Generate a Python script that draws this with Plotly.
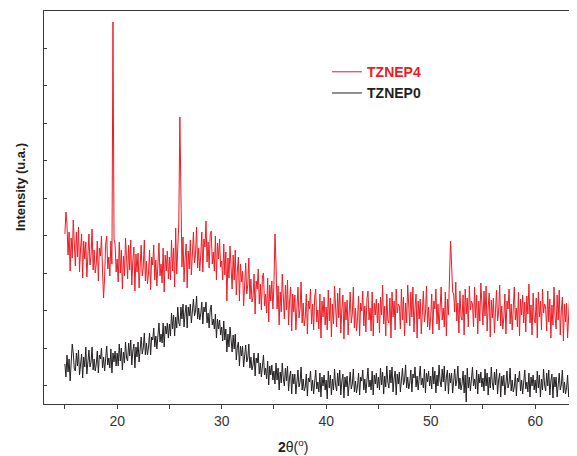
"""XRD patterns of TZNEP0 and TZNEP4 (intensity in arbitrary units)."""

import numpy as np
import plotly.graph_objects as go

# 2-theta sampling grid: 15.0 to 64.0 deg, 0.1 deg step
TWO_THETA_START = 15.0
TWO_THETA_STEP = 0.1

# TZNEP4 intensity, one row per degree (15.0-15.9, 16.0-16.9, ...)
tznep4 = [
    170, 192, 180, 149, 172, 133, 166, 146, 184, 154,
    138, 172, 147, 177, 132, 156, 170, 126, 163, 145,
    162, 127, 157, 170, 139, 148, 175, 134, 154, 131,
    140, 163, 123, 156, 148, 168, 133, 106, 127, 160,
    168, 135, 147, 128, 163, 140, 382, 165, 160, 132,
    145, 122, 162, 131, 154, 115, 148, 128, 166, 136,
    125, 159, 134, 164, 119, 143, 157, 113, 150, 132,
    151, 116, 146, 159, 128, 137, 164, 123, 143, 120,
    131, 154, 114, 147, 139, 159, 124, 144, 118, 151,
    161, 128, 140, 121, 156, 112, 149, 133, 153, 125,
    147, 124, 164, 133, 156, 117, 176, 130, 168, 182,
    287, 170, 137, 167, 122, 146, 160, 116, 153, 135,
    164, 129, 159, 172, 141, 150, 177, 136, 156, 133,
    149, 172, 132, 165, 157, 183, 142, 162, 136, 169,
    173, 140, 152, 133, 168, 124, 161, 145, 165, 137,
    143, 124, 160, 129, 152, 103, 146, 126, 158, 132,
    115, 149, 124, 154, 109, 133, 147, 103, 140, 122,
    133, 98, 128, 141, 110, 119, 146, 105, 125, 102,
    107, 130, 90, 123, 115, 135, 100, 120, 94, 127,
    131, 98, 110, 91, 126, 82, 119, 103, 123, 95,
    118, 170, 140, 95, 118, 79, 112, 92, 130, 100,
    85, 119, 94, 124, 79, 103, 117, 73, 110, 92,
    109, 74, 104, 117, 86, 95, 122, 81, 101, 78,
    87, 110, 70, 103, 95, 115, 80, 100, 74, 107,
    115, 82, 94, 75, 110, 66, 103, 87, 107, 79,
    97, 74, 114, 83, 106, 67, 100, 80, 118, 88,
    77, 111, 86, 116, 71, 95, 109, 65, 102, 84,
    104, 69, 99, 112, 81, 90, 117, 76, 96, 73,
    85, 108, 68, 101, 93, 113, 78, 98, 72, 105,
    113, 84, 96, 73, 112, 68, 101, 89, 105, 81,
    101, 71, 107, 89, 119, 80, 98, 68, 110, 84,
    81, 106, 66, 112, 87, 103, 74, 115, 91, 100,
    98, 75, 115, 84, 107, 68, 101, 81, 119, 89,
    78, 112, 87, 117, 72, 96, 110, 66, 103, 85,
    105, 70, 100, 113, 82, 91, 118, 77, 97, 74,
    87, 110, 70, 103, 95, 115, 80, 100, 74, 107,
    117, 84, 96, 77, 112, 68, 105, 89, 125, 163,
    140, 112, 110, 92, 122, 83, 101, 71, 113, 87,
    84, 109, 69, 115, 90, 106, 77, 118, 94, 103,
    100, 77, 117, 86, 109, 70, 103, 83, 121, 91,
    79, 113, 88, 118, 73, 97, 111, 67, 104, 86,
    106, 71, 101, 114, 83, 92, 119, 78, 98, 75,
    87, 110, 70, 103, 95, 115, 80, 100, 74, 107,
    117, 84, 96, 77, 112, 68, 105, 89, 109, 81,
    102, 72, 108, 90, 120, 81, 99, 69, 111, 85,
    81, 106, 66, 112, 87, 103, 74, 115, 91, 100,
    96, 73, 113, 82, 105, 66, 99, 79, 117, 87,
    75, 109, 84, 114, 69, 93, 107, 63, 100, 82,
    101, 66, 96, 109, 78, 87, 114, 73, 93, 70,
    86,
]

# TZNEP0 intensity, same grid
tznep0 = [
    40, 27, 49, 32, 45, 23, 41, 60, 51, 35,
    33, 51, 38, 54, 29, 43, 50, 26, 47, 37,
    57, 30, 47, 54, 37, 42, 57, 34, 45, 33,
    40, 53, 31, 49, 45, 56, 36, 47, 33, 51,
    58, 39, 46, 36, 55, 31, 51, 42, 53, 38,
    51, 38, 60, 43, 56, 34, 52, 41, 62, 46,
    43, 61, 48, 64, 39, 53, 60, 36, 57, 47,
    62, 42, 60, 67, 50, 56, 71, 49, 61, 49,
    57, 71, 49, 67, 64, 76, 57, 68, 55, 73,
    81, 62, 70, 61, 81, 57, 78, 70, 81, 66,
    80, 68, 91, 75, 89, 68, 87, 76, 97, 81,
    78, 97, 85, 100, 77, 91, 99, 76, 97, 88,
    100, 81, 98, 105, 88, 93, 108, 85, 96, 84,
    90, 102, 80, 97, 92, 102, 81, 91, 76, 94,
    99, 79, 85, 75, 90, 66, 85, 75, 84, 69,
    77, 63, 83, 64, 75, 52, 70, 57, 77, 60,
    52, 69, 55, 70, 44, 57, 62, 38, 58, 48,
    58, 37, 53, 59, 42, 46, 60, 36, 47, 34,
    39, 51, 28, 46, 41, 51, 30, 41, 27, 44,
    49, 29, 36, 25, 43, 19, 38, 29, 39, 24,
    33, 20, 41, 24, 36, 14, 32, 21, 41, 25,
    18, 36, 23, 38, 13, 27, 33, 10, 30, 20,
    30, 10, 27, 34, 17, 22, 37, 14, 25, 13,
    17, 30, 8, 26, 22, 33, 13, 24, 10, 28,
    34, 15, 22, 12, 31, 7, 27, 18, 29, 14,
    24, 5, 33, 16, 29, 9, 25, 14, 35, 19,
    13, 31, 18, 34, 9, 23, 30, 6, 27, 17,
    28, 8, 25, 32, 15, 20, 35, 12, 23, 11,
    18, 31, 9, 27, 23, 34, 14, 25, 11, 29,
    36, 17, 24, 14, 33, 9, 29, 20, 31, 16,
    27, 14, 36, 19, 32, 10, 28, 17, 38, 22,
    16, 34, 21, 37, 12, 26, 33, 9, 30, 20,
    32, 12, 29, 36, 19, 24, 39, 16, 27, 15,
    21, 34, 12, 30, 26, 37, 17, 28, 14, 32,
    38, 19, 26, 16, 35, 11, 31, 22, 33, 18,
    28, 15, 37, 20, 33, 11, 29, 18, 39, 23,
    17, 35, 22, 38, 13, 27, 34, 10, 31, 21,
    31, 11, 28, 35, 18, 23, 38, 15, 26, 14,
    20, 33, 11, 29, 2, 36, 16, 27, 13, 31,
    37, 18, 25, 15, 34, 10, 30, 21, 32, 17,
    26, 13, 35, 18, 31, 9, 27, 16, 37, 21,
    14, 32, 19, 35, 10, 24, 31, 7, 28, 18,
    29, 9, 26, 33, 16, 21, 36, 13, 24, 12,
    17, 30, 8, 26, 22, 33, 13, 24, 10, 28,
    34, 15, 22, 12, 31, 7, 27, 18, 29, 14,
    24, 11, 33, 16, 29, 7, 25, 14, 35, 19,
    13, 31, 18, 34, 9, 23, 30, 6, 27, 17,
    27, 7, 24, 31, 14, 19, 34, 11, 22, 10,
    16, 29, 7, 25, 21, 32, 12, 23, 9, 27,
    20,
]

x_tick_vals = [15, 20, 25, 30, 35, 40, 45, 50, 55, 60]
x_tick_text = ["", "20", "", "30", "", "40", "", "50", "", "60"]

RED = "#ed1c24"
BLACK = "#231f20"
FONT = "Arial, Liberation Sans, sans-serif"


def grid(n: int) -> np.ndarray:
    return np.round(TWO_THETA_START + TWO_THETA_STEP * np.arange(n), 2)


fig = go.Figure()
fig.add_trace(go.Scatter(
    x=grid(len(tznep4)), y=tznep4, mode="lines",
    line=dict(color=RED, width=1),
    name=f"<b><span style='color:{RED}'>TZNEP4</span></b>",
))
fig.add_trace(go.Scatter(
    x=grid(len(tznep0)), y=tznep0, mode="lines",
    line=dict(color=BLACK, width=1),
    name=f"<b><span style='color:{BLACK}'>TZNEP0</span></b>",
))

# the page body adds an 8 px margin, so the figure is 8 px smaller each way
axis_line = "#3a3a3a"
fig.update_layout(
    width=569, height=448,
    margin=dict(l=36, r=0, t=3, b=52, autoexpand=False),
    paper_bgcolor="white", plot_bgcolor="white",
    font=dict(family=FONT, size=14, color="#231f20"),
    showlegend=True,
    legend=dict(
        x=0.531, y=0.885, xanchor="left", yanchor="top",
        bgcolor="rgba(0,0,0,0)", font=dict(size=14, family=FONT),
        tracegroupgap=0,
    ),
    xaxis=dict(
        range=[13, 64], showgrid=False, zeroline=False, automargin=False,
        showline=True, linecolor=axis_line, linewidth=1.2, mirror=True,
        ticks="outside", ticklen=4, tickwidth=1, tickcolor=axis_line,
        tickvals=x_tick_vals, ticktext=x_tick_text,
        tickfont=dict(size=14, color="#333333"),
    ),
    yaxis=dict(
        range=[0, 393], showgrid=False, zeroline=False, automargin=False,
        showline=True, linecolor=axis_line, linewidth=1.2,
        ticks="inside", ticklen=3, tickwidth=1, tickcolor=axis_line,
        tick0=18.5, dtick=37.5, showticklabels=False,
    ),
    annotations=[
        dict(text="<b>2</b>θ(<sup>o</sup>)", xref="paper", yref="paper",
             x=0.467, y=-0.107, xanchor="center", yanchor="middle",
             showarrow=False, font=dict(size=14)),
        dict(text="<b>Intensity (u.a.)</b>", xref="paper", yref="paper",
             x=-0.045, y=0.552, xanchor="center", yanchor="middle",
             textangle=-90, showarrow=False, font=dict(size=13)),
    ],
)

fig.write_html("out.html")
